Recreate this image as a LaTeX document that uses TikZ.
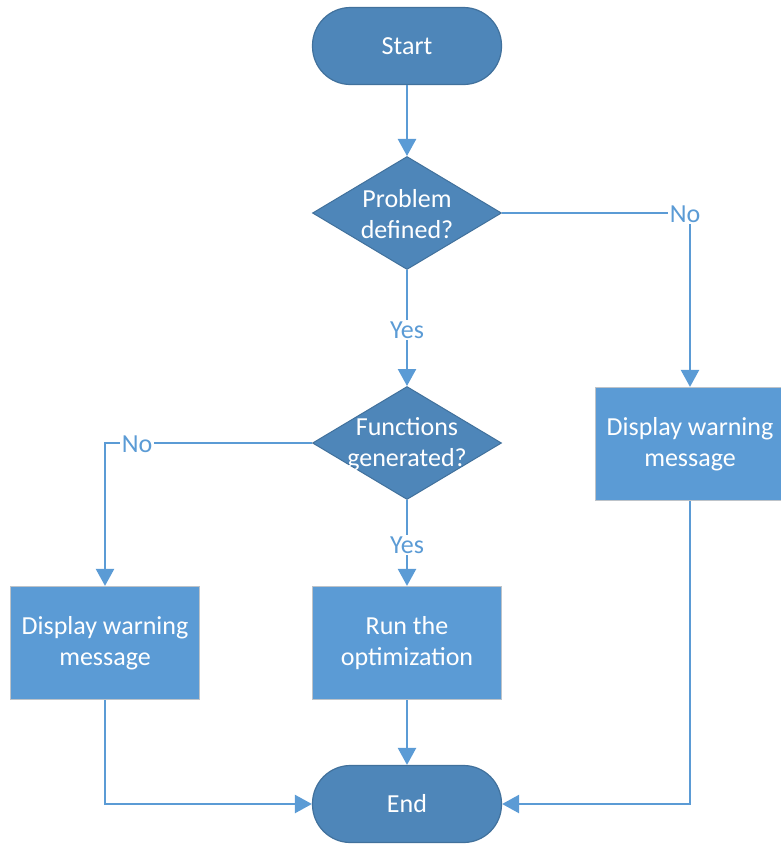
\documentclass[tikz,border=0pt]{standalone}
\usepackage{fontspec}
\setmainfont{Carlito}
\usetikzlibrary{shapes.geometric,arrows.meta}
\definecolor{termfill}{HTML}{4E86B9}
\definecolor{termline}{HTML}{41719C}
\definecolor{boxfill}{HTML}{5B9BD5}
\definecolor{boxline}{HTML}{BDC3C9}
\definecolor{flowc}{HTML}{5B9BD5}
\tikzset{
  x=1pt, y=-1pt,
  txt/.style={text=white, align=center, font=\fontsize{26}{31}\selectfont, inner sep=0pt},
  terminal/.style={draw=termline, line width=1.2pt, fill=termfill, rounded corners=38pt,
    minimum width=189pt, minimum height=77pt, txt},
  decision/.style={diamond, draw=termline, line width=1pt, fill=termfill,
    minimum width=189pt, minimum height=113pt, inner sep=0pt},
  process/.style={rectangle, draw=boxline, line width=1.2pt, fill=boxfill,
    minimum width=189pt, minimum height=113pt, txt},
  flow/.style={draw=flowc, line width=2.4pt, -{Triangle[width=18pt,length=17pt]}},
  lbl/.style={fill=white, text=flowc, inner sep=1.5pt, font=\fontsize{26}{30}\selectfont}
}
\begin{document}
\begin{tikzpicture}
\useasboundingbox (0,0) rectangle (781,844);

% shapes
\node[terminal] (start) at (407,46) {Start};
\node[decision] (d1) at (407,213) {};
\node[txt] (d1t) at (407,214) {Problem\\defined?};
\node[decision] (d2) at (407,443) {};
\node[txt] (d2t) at (407,444) {Functions\\generated?};
\node[process] (wr) at (690,444) {Display warning\\message};
\node[process] (wl) at (105,643) {Display warning\\message};
\node[process] (run) at (407,643) {Run the\\optimization};
\node[terminal] (end) at (407,804) {End};

% connectors
\draw[flow] (start) -- (d1);
\draw[flow] (d1) -- (d2);
\draw[flow] (d1.east) -| (wr.north);
\draw[flow] (d2.west) -| (wl.north);
\draw[flow] (d2) -- (run);
\draw[flow] (run) -- (end);
\draw[flow] (wl.south) |- (end.west);
\draw[flow] (wr.south) |- (end.east);

% branch labels
\node[lbl] (yes1) at (407,330) {Yes};
\node[lbl] (yes2) at (407,545) {Yes};
\node[lbl] (no1) at (685,214) {No};
\node[lbl] (no2) at (137,444) {No};
\end{tikzpicture}
\end{document}
